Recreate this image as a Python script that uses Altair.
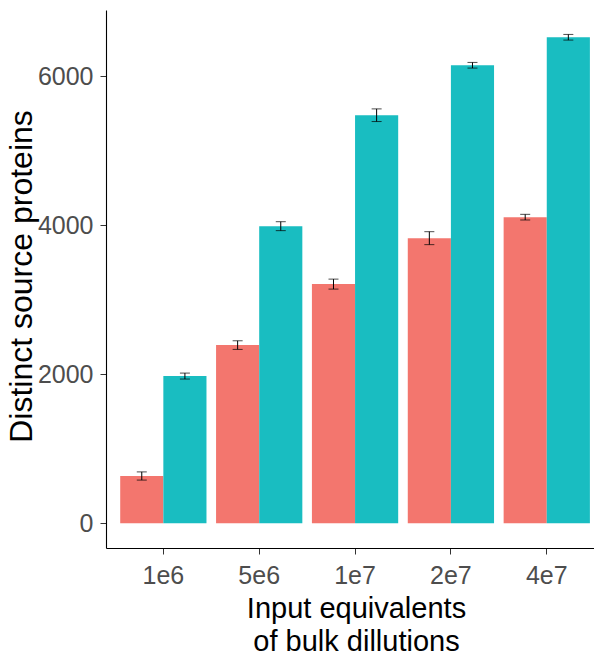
import altair as alt
import pandas as pd

dilutions = ["1e6", "5e6", "1e7", "2e7", "4e7"]
groups = ["G1", "G2"]
colors = ["#F3766E", "#19BDC1"]
g1_means = [635, 2393, 3212, 3829, 4111]
g1_err = [55, 58, 67, 87, 38]
g2_means = [1977, 3990, 5480, 6151, 6527]
g2_err = [40, 60, 85, 38, 38]

rows = []
for d, m, e in zip(dilutions, g1_means, g1_err):
    rows.append({"dilution": d, "group": groups[0], "mean": m, "lo": m - e, "hi": m + e})
for d, m, e in zip(dilutions, g2_means, g2_err):
    rows.append({"dilution": d, "group": groups[1], "mean": m, "lo": m - e, "hi": m + e})
df = pd.DataFrame(rows)

FONT = "Liberation Sans"

x_scale = alt.Scale(paddingInner=0.1, paddingOuter=0.0955, align=0.776)
x_enc = alt.X(
    "dilution:N",
    sort=dilutions,
    scale=x_scale,
    axis=alt.Axis(
        title=["Input equivalents", "of bulk dillutions"],
        labelAngle=0,
        labelFont=FONT,
        labelFontSize=25,
        labelColor="#4D4D4D",
        labelPadding=9,
        tickSize=6,
        tickColor="#333333",
        tickWidth=1,
        domainColor="black",
        domainWidth=1.1,
        titleFont=FONT,
        titleFontSize=29,
        titleFontWeight="normal",
        titleColor="black",
        titleX=250,
        titleY=69,
        titleAlign="center",
        titleBaseline="alphabetic",
        titleLineHeight=33,
    ),
)
xoff_enc = alt.XOffset("group:N", sort=groups, scale=alt.Scale(paddingInner=0, paddingOuter=0))
y_scale = alt.Scale(domain=[-332, 6893], nice=False, zero=False)

base = alt.Chart(df)

bars = base.mark_bar().encode(
    x=x_enc,
    xOffset=xoff_enc,
    y=alt.Y(
        "mean:Q",
        scale=y_scale,
        axis=alt.Axis(
            title="Distinct source proteins",
            values=[0, 2000, 4000, 6000],
            format="d",
            grid=False,
            labelFont=FONT,
            labelFontSize=25,
            labelColor="#4D4D4D",
            labelPadding=7,
            tickSize=6,
            tickColor="#333333",
            tickWidth=1,
            domainColor="black",
            domainWidth=1.1,
            titleFont=FONT,
            titleFontSize=32,
            titleFontWeight="normal",
            titleColor="black",
            titleAngle=-90,
            titleX=-75,
            titleY=266,
            titleAlign="center",
            titleBaseline="alphabetic",
        ),
    ),
    y2=alt.datum(0),
    color=alt.Color("group:N", scale=alt.Scale(domain=groups, range=colors), legend=None),
)

rules = base.mark_rule(color="black", strokeWidth=1).encode(
    x=alt.X("dilution:N", sort=dilutions),
    xOffset=xoff_enc,
    y=alt.Y("lo:Q", scale=y_scale),
    y2="hi:Q",
)
cap_lo = base.mark_tick(color="black", thickness=1, size=10).encode(
    x=alt.X("dilution:N", sort=dilutions),
    xOffset=xoff_enc,
    y=alt.Y("lo:Q", scale=y_scale),
)
cap_hi = base.mark_tick(color="black", thickness=1, size=10).encode(
    x=alt.X("dilution:N", sort=dilutions),
    xOffset=xoff_enc,
    y=alt.Y("hi:Q", scale=y_scale),
)

chart = (
    alt.layer(bars, rules, cap_lo, cap_hi)
    .properties(
        width=488,
        height=538,
        autosize=alt.AutoSizeParams(type="none"),
        padding={"left": 98, "top": 2, "right": 0, "bottom": 109},
        background="white",
    )
    .configure_view(strokeWidth=0)
)

chart.save("out.html", embed_options={"renderer": "svg", "actions": False})
